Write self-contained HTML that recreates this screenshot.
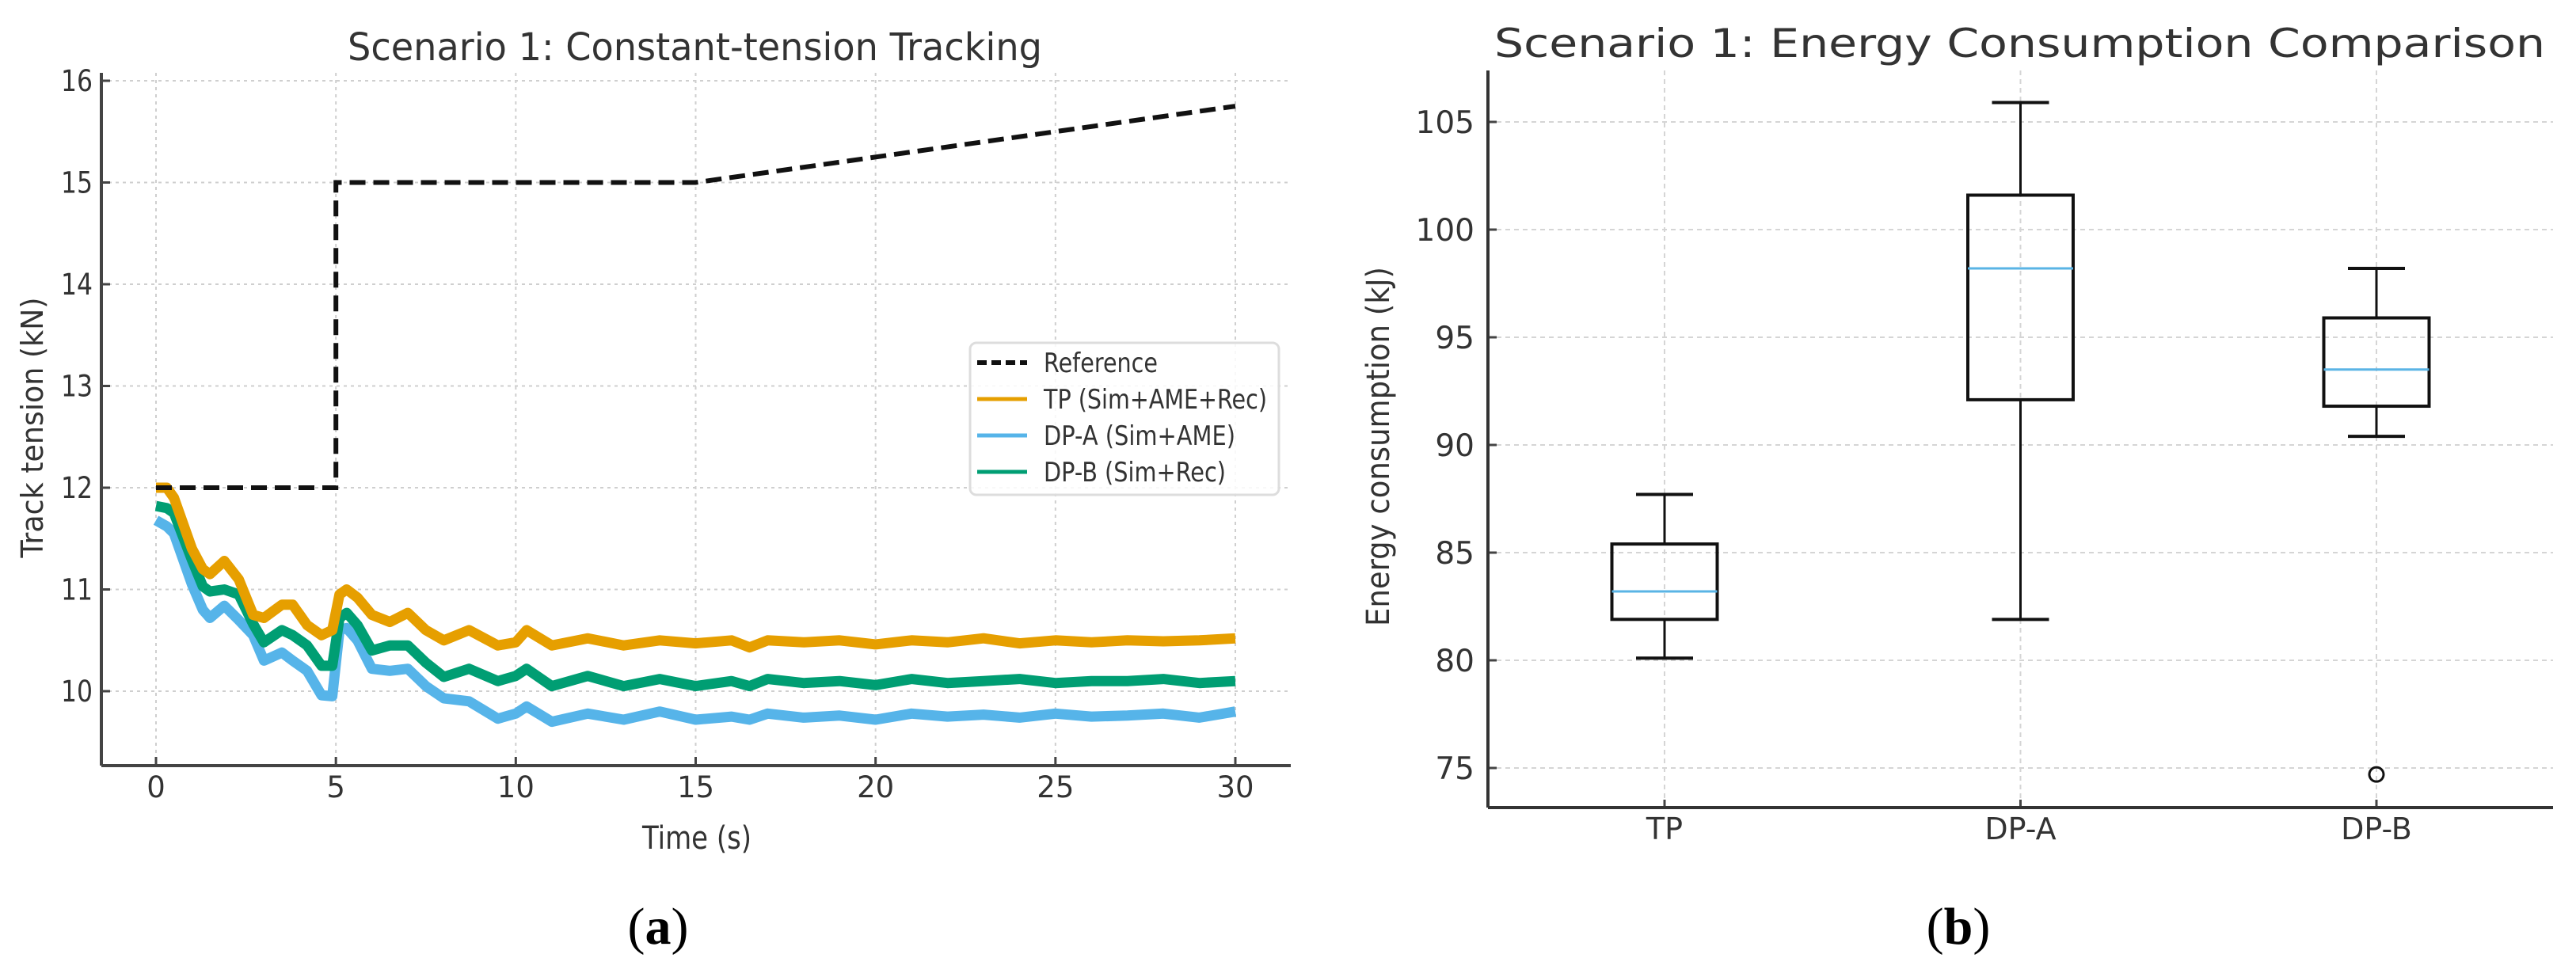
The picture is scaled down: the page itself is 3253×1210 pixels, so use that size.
<!DOCTYPE html>
<html><head><meta charset="utf-8"><style>
html,body{margin:0;padding:0;background:#fff;}
svg{display:block;font-family:"DejaVu Sans","Liberation Sans",sans-serif;}
</style></head><body>
<svg id="fig" width="3253" height="1210" viewBox="0 0 3253 1210" xmlns="http://www.w3.org/2000/svg">
<g id="left"></g>
<g id="right"></g>
</svg>
<script>
// ---- Chart (a) data ----
const refTimes = [0, 5, 5, 15, 30];
const refValues = [12, 12, 15, 15, 15.75];
const times = [0,0.3,0.5,1,1.3,1.5,1.9,2.3,2.7,3,3.5,3.8,4.2,4.6,4.9,5.1,5.3,5.6,6,6.5,7,7.5,8,8.7,9.5,10,10.3,11,12,13,14,15,16,16.5,17,18,19,20,21,22,23,24,25,26,27,28,29,30];
const tpValues = [12.0,12.0,11.9,11.4,11.2,11.15,11.28,11.1,10.75,10.72,10.85,10.85,10.65,10.55,10.6,10.95,11.0,10.92,10.75,10.68,10.77,10.6,10.5,10.6,10.45,10.48,10.6,10.45,10.52,10.45,10.5,10.47,10.5,10.43,10.5,10.48,10.5,10.46,10.5,10.48,10.52,10.47,10.5,10.48,10.5,10.49,10.5,10.52];
const dpbValues = [11.82,11.8,11.75,11.29,11.03,10.98,11.0,10.95,10.66,10.48,10.6,10.55,10.45,10.25,10.25,10.72,10.77,10.65,10.4,10.45,10.45,10.28,10.14,10.22,10.1,10.15,10.22,10.05,10.15,10.05,10.12,10.05,10.1,10.05,10.12,10.08,10.1,10.06,10.12,10.08,10.1,10.12,10.08,10.1,10.1,10.12,10.08,10.1];
const dpaValues = [11.68,11.62,11.55,11.05,10.8,10.72,10.84,10.7,10.55,10.3,10.38,10.3,10.2,9.96,9.95,10.6,10.62,10.5,10.22,10.2,10.22,10.05,9.93,9.9,9.73,9.78,9.85,9.7,9.78,9.72,9.8,9.72,9.75,9.72,9.78,9.74,9.76,9.72,9.78,9.75,9.77,9.74,9.78,9.75,9.76,9.78,9.74,9.8];
const xTicksA = [0,5,10,15,20,25,30];
const yTicksA = [10,11,12,13,14,15,16];
const legendLabels = ["Reference","TP (Sim+AME+Rec)","DP-A (Sim+AME)","DP-B (Sim+Rec)"];

// ---- Chart (b) data ----
const categories = ["TP","DP-A","DP-B"];
const whiskerLow = [80.1,81.9,90.4];
const q1 = [81.9,92.1,91.8];
const medians = [83.2,98.2,93.5];
const q3 = [85.4,101.6,95.9];
const whiskerHigh = [87.7,105.9,98.2];
const outliers = [[],[],[74.7]];
const yTicksB = [75,80,85,90,95,100,105];

const NS = "http://www.w3.org/2000/svg";
function mk(parent, tag, attrs, text){
  const e = document.createElementNS(NS, tag);
  for (const k in attrs) e.setAttribute(k, attrs[k]);
  if (text !== undefined) e.textContent = text;
  parent.appendChild(e);
  return e;
}

// ===== Chart A =====
(function(){
  const g = document.getElementById('left');
  const L=128, R=1630, T=92, B=967;
  const xA = t => 197 + (t-0)*(1560-197)/30;
  const yA = v => 873 - (v-10)*128.5;
  // grid
  xTicksA.forEach(t=>{
    const l = mk(g,'line',{x1:xA(t),x2:xA(t),y1:T,y2:B,stroke:'#cfcfcf','stroke-width':2,'stroke-dasharray':'4,5'});
    
    
    const tk = mk(g,'line',{x1:xA(t),x2:xA(t),y1:B,y2:B-11,stroke:'#444','stroke-width':3});
    
    
    const tx = mk(g,'text',{x:xA(t),y:1007,'font-size':37,'text-anchor':'middle',fill:'#333'},String(t));
    
    
  });
  yTicksA.forEach(v=>{
    const l = mk(g,'line',{x1:L,x2:R,y1:yA(v),y2:yA(v),stroke:'#cfcfcf','stroke-width':2,'stroke-dasharray':'4,5'});
    
    
    const tk = mk(g,'line',{x1:L,x2:L+11,y1:yA(v),y2:yA(v),stroke:'#444','stroke-width':3});
    
    
    const tx = mk(g,'text',{x:117,y:yA(v)+13,'font-size':37,'text-anchor':'end',fill:'#333',textLength:40,lengthAdjust:'spacingAndGlyphs'},String(v));
    
    
  });
  function path(ts, vs){ return ts.map((t,i)=>(i?'L':'M')+xA(t).toFixed(1)+','+yA(vs[i]).toFixed(1)).join(' '); }
  const series = [
    {v:dpaValues,c:'#56b4e9',n:'dpa-line'},
    {v:dpbValues,c:'#009e73',n:'dpb-line'},
    {v:tpValues,c:'#e69f00',n:'tp-line'}
  ];
  series.forEach(s=>{
    const p = mk(g,'path',{d:path(times,s.v),fill:'none',stroke:s.c,'stroke-width':13,'stroke-linejoin':'round'});
    
    
  });
  const rp = mk(g,'path',{d:path(refTimes,refValues),fill:'none',stroke:'#111','stroke-width':6,'stroke-dasharray':'20,10'});
  
  
  // spines
  const sl = mk(g,'line',{x1:L,x2:L,y1:T,y2:B,stroke:'#444','stroke-width':4});
   
  const sb = mk(g,'line',{x1:L,x2:R,y1:B,y2:B,stroke:'#444','stroke-width':4});
   
  // titles
  const ti = mk(g,'text',{x:439,y:76,'font-size':48,fill:'#333',textLength:877,lengthAdjust:'spacingAndGlyphs'},'Scenario 1: Constant-tension Tracking');
   
  const xl = mk(g,'text',{x:880,y:1072,'font-size':40,'text-anchor':'middle',fill:'#333',textLength:138,lengthAdjust:'spacingAndGlyphs'},'Time (s)');
   
  const yl = mk(g,'text',{x:0,y:0,'font-size':38,'text-anchor':'middle',fill:'#333',transform:'translate(54,540) rotate(-90)',textLength:329,lengthAdjust:'spacingAndGlyphs'},'Track tension (kN)');
   
  // legend
  const lg = mk(g,'g',{});
   
  mk(lg,'rect',{x:1225,y:433,width:390,height:192,rx:8,fill:'#fff','fill-opacity':0.85,stroke:'#ddd','stroke-width':3});
  const cols = ['#111','#e69f00','#56b4e9','#009e73'];
  const lens = [144,282,242,230];
  legendLabels.forEach((lab,i)=>{
    const y = 458 + i*46;
    const ln = mk(lg,'line',{x1:1234,x2:1297,y1:y,y2:y,stroke:cols[i],'stroke-width':i?5:6,'stroke-dasharray':i?'none':'12,6'});
     
    const t = mk(lg,'text',{x:1318,y:y+12,'font-size':34,fill:'#333',textLength:lens[i],lengthAdjust:'spacingAndGlyphs'},lab);
     
  });
  const cap = mk(g,'text',{x:831,y:1192,'font-size':66,'text-anchor':'middle',fill:'#000','font-family':'"Liberation Serif",serif'},'(');
  cap.textContent='';
  mk(cap,'tspan',{},'(');
  mk(cap,'tspan',{'font-weight':'bold'},'a');
  mk(cap,'tspan',{},')');
   
})();

// ===== Chart B =====
(function(){
  const g = document.getElementById('right');
  const L=1879, R=3224, T=89, B=1020;
  const xB = i => 2102 + i*449.5;
  const yB = v => 154 - (v-105)*27.2;
  categories.forEach((c,i)=>{
    const l = mk(g,'line',{x1:xB(i),x2:xB(i),y1:T,y2:B,stroke:'#d5d5d5','stroke-width':2,'stroke-dasharray':'6,5'});
     
    const tk = mk(g,'line',{x1:xB(i),x2:xB(i),y1:B,y2:B-10,stroke:'#444','stroke-width':3});
     
    const tx = mk(g,'text',{x:xB(i),y:1060,'font-size':38,'text-anchor':'middle',fill:'#333'},c);
     
  });
  yTicksB.forEach(v=>{
    const l = mk(g,'line',{x1:L,x2:R,y1:yB(v),y2:yB(v),stroke:'#d5d5d5','stroke-width':2,'stroke-dasharray':'6,5'});
     
    const tk = mk(g,'line',{x1:L,x2:L+11,y1:yB(v),y2:yB(v),stroke:'#444','stroke-width':3});
     
    const tx = mk(g,'text',{x:1862,y:yB(v)+14,'font-size':39,'text-anchor':'end',fill:'#333'},String(v));
     
  });
  const bw = 133, cw = 72;
  categories.forEach((c,i)=>{
    const x = xB(i);
    const bg = mk(g,'g',{});
     
    mk(bg,'line',{x1:x,x2:x,y1:yB(whiskerLow[i]),y2:yB(q1[i]),stroke:'#111','stroke-width':3});
    mk(bg,'line',{x1:x,x2:x,y1:yB(q3[i]),y2:yB(whiskerHigh[i]),stroke:'#111','stroke-width':3});
    mk(bg,'line',{x1:x-cw/2,x2:x+cw/2,y1:yB(whiskerLow[i]),y2:yB(whiskerLow[i]),stroke:'#111','stroke-width':4});
    mk(bg,'line',{x1:x-cw/2,x2:x+cw/2,y1:yB(whiskerHigh[i]),y2:yB(whiskerHigh[i]),stroke:'#111','stroke-width':4});
    mk(bg,'rect',{x:x-bw/2,y:yB(q3[i]),width:bw,height:yB(q1[i])-yB(q3[i]),fill:'none',stroke:'#111','stroke-width':4});
    mk(bg,'line',{x1:x-bw/2,x2:x+bw/2,y1:yB(medians[i]),y2:yB(medians[i]),stroke:'#5ab4e5','stroke-width':3});
    outliers[i].forEach(o=>{
      const c2 = mk(bg,'circle',{cx:x,cy:yB(o),r:9,fill:'none',stroke:'#111','stroke-width':3});
       
    });
  });
  const sl = mk(g,'line',{x1:L,x2:L,y1:T,y2:B,stroke:'#333','stroke-width':4});
   
  const sb = mk(g,'line',{x1:L,x2:R,y1:B,y2:B,stroke:'#333','stroke-width':4});
   
  const ti = mk(g,'text',{x:1887,y:72,'font-size':50,fill:'#333',textLength:1327,lengthAdjust:'spacingAndGlyphs'},'Scenario 1: Energy Consumption Comparison');
   
  const yl = mk(g,'text',{x:0,y:0,'font-size':40,'text-anchor':'middle',fill:'#333',transform:'translate(1754,564) rotate(-90)',textLength:454,lengthAdjust:'spacingAndGlyphs'},'Energy consumption (kJ)');
   
  const cap = mk(g,'text',{x:2473,y:1192,'font-size':66,'text-anchor':'middle',fill:'#000','font-family':'"Liberation Serif",serif'});
  mk(cap,'tspan',{},'(');
  mk(cap,'tspan',{'font-weight':'bold'},'b');
  mk(cap,'tspan',{},')');
   
})();
</script>
</body></html>
